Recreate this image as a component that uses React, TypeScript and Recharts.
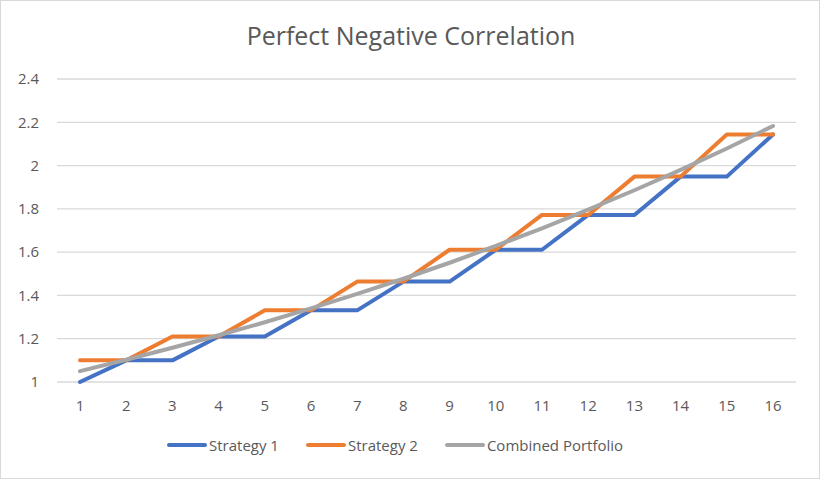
import React from "react";
import { LineChart, Line, XAxis, YAxis, CartesianGrid } from "recharts";

const periods = ["1", "2", "3", "4", "5", "6", "7", "8", "9", "10", "11", "12", "13", "14", "15", "16"];
const strategy1 = [1, 1.1, 1.1, 1.21, 1.21, 1.331, 1.331, 1.464, 1.464, 1.611, 1.611, 1.772, 1.772, 1.949, 1.949, 2.144];
const strategy2 = [1.1, 1.1, 1.21, 1.21, 1.331, 1.331, 1.464, 1.464, 1.611, 1.611, 1.772, 1.772, 1.949, 1.949, 2.144, 2.144];
const combined = [1.05, 1.103, 1.158, 1.216, 1.276, 1.34, 1.407, 1.477, 1.551, 1.629, 1.71, 1.796, 1.886, 1.98, 2.079, 2.183];
const yTicks = [1, 1.2, 1.4, 1.6, 1.8, 2, 2.2, 2.4];

const data = periods.map((p, i) => ({
  period: p,
  s1: strategy1[i],
  s2: strategy2[i],
  combo: combined[i],
}));

const FONT = "'Open Sans', 'Noto Sans', sans-serif";
const TEXT = "#595959";

const legendItems = [
  { label: "Strategy 1", color: "#4472C4" },
  { label: "Strategy 2", color: "#ED7D31" },
  { label: "Combined Portfolio", color: "#A5A5A5" },
];

export default function App() {
  return (
    <div
      style={{
        position: "absolute",
        left: 0,
        top: 0,
        width: 820,
        height: 479,
        background: "#fff",
        border: "1px solid #d9d9d9",
        boxSizing: "border-box",
      }}
    >
      <div
        style={{
          position: "absolute",
          top: 17,
          left: 0,
          width: 820,
          textAlign: "center",
          fontFamily: FONT,
          fontSize: 25,
          color: TEXT,
        }}
      >
        Perfect Negative Correlation
      </div>
      <div style={{ position: "absolute", left: -1, top: -1 }}>
        <LineChart width={820} height={479} data={data} margin={{ top: 79, right: 24, left: 0, bottom: 57 }}>
          <CartesianGrid vertical={false} stroke="#d9d9d9" strokeWidth={1.3} />
          <XAxis
            dataKey="period"
            axisLine={false}
            tickLine={false}
            height={40}
            padding={{ left: 23, right: 23 }}
            tick={{ fill: TEXT, fontSize: 15, fontFamily: FONT }}
            tickMargin={12}
            interval={0}
          />
          <YAxis
            domain={[1, 2.4]}
            ticks={yTicks}
            width={57}
            axisLine={false}
            tickLine={false}
            tickFormatter={(v) => String(v)}
            tick={{ fill: TEXT, fontSize: 15, fontFamily: FONT }}
            tickMargin={12}
          />
          <Line dataKey="s1" name="Strategy 1" stroke="#4472C4" strokeWidth={4} dot={false} strokeLinecap="round" strokeLinejoin="round" isAnimationActive={false} />
          <Line dataKey="s2" name="Strategy 2" stroke="#ED7D31" strokeWidth={4} dot={false} strokeLinecap="round" strokeLinejoin="round" isAnimationActive={false} />
          <Line dataKey="combo" name="Combined Portfolio" stroke="#A5A5A5" strokeWidth={4} dot={false} strokeLinecap="round" strokeLinejoin="round" isAnimationActive={false} />
        </LineChart>
      </div>
      <div
        style={{
          position: "absolute",
          top: 434,
          left: 165,
          display: "flex",
          gap: 26,
          fontFamily: FONT,
          fontSize: 15,
          color: TEXT,
        }}
      >
        {legendItems.map((it) => (
          <div key={it.label} style={{ display: "flex", alignItems: "center" }}>
            <svg width={42} height={6} style={{ marginRight: 1 }}>
              <line x1={3} y1={3} x2={39} y2={3} stroke={it.color} strokeWidth={4} strokeLinecap="round" />
            </svg>
            <span>{it.label}</span>
          </div>
        ))}
      </div>
    </div>
  );
}
